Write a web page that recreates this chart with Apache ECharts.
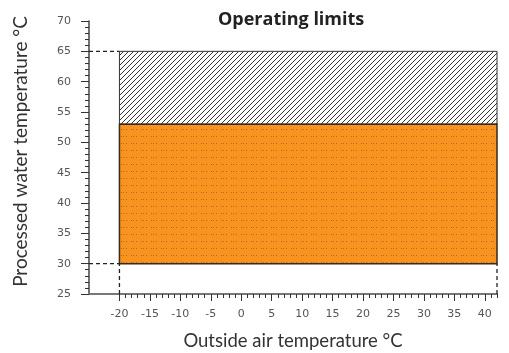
<!DOCTYPE html>
<html><head><meta charset="utf-8">
<script src="https://cdn.jsdelivr.net/npm/echarts@6/dist/echarts.min.js"></script>
<style>html,body{margin:0;padding:0;background:#fff}#c{width:509px;height:353px}</style>
</head><body><div id="c"></div>
<script>
// Data
const xLabels = [-20,-15,-10,-5,0,5,10,15,20,25,30,35,40,42];
const yRange = [25, 70];
const xRange = [-25, 42];
const operatingX = [-20, 42];
const operatingY = [30, 53];   // orange region
const hatchedY = [53, 65];     // hatched region
const minorX = [];
for (let v = -20; v <= 42; v++) minorX.push(v);

function hatchPattern(){
  const s = 5, c = document.createElement('canvas');
  c.width = s; c.height = s;
  const g = c.getContext('2d');
  g.fillStyle = '#fff'; g.fillRect(0,0,s,s);
  g.strokeStyle = '#333'; g.lineWidth = 1;
  g.beginPath();
  g.moveTo(0,s); g.lineTo(s,0);
  g.moveTo(-1,1); g.lineTo(1,-1);
  g.moveTo(s-1,s+1); g.lineTo(s+1,s-1);
  g.stroke();
  return c;
}
function dotPattern(){
  const w = 10, h = 7, c = document.createElement('canvas');
  c.width = w; c.height = h;
  const g = c.getContext('2d');
  g.fillStyle = '#F7931E'; g.fillRect(0,0,w,h);
  g.fillStyle = 'rgba(110,80,50,0.55)';
  [1,3,6].forEach(x => g.fillRect(x,3,1,1));
  return c;
}
const hatch = hatchPattern(), dots = dotPattern();

const rects = [
  {x0: operatingX[0], x1: operatingX[1], y0: hatchedY[0], y1: hatchedY[1], kind: 'hatch'},
  {x0: operatingX[0], x1: operatingX[1], y0: operatingY[0], y1: operatingY[1], kind: 'orange'}
];

const chart = echarts.init(document.getElementById('c'));
const dashStyle = {color:'#222', width:1.3, type:[4,3]};
chart.setOption({
  animation:false,
  title:{text:'Operating limits', left:213, top:6,
    textStyle:{fontFamily:'Open Sans', fontWeight:'bold', fontSize:18, color:'#222'}},
  grid:{left:89, right:12, top:21, bottom:59, containLabel:false, outerBoundsMode:'none'},
  xAxis:[{
    type:'value', min:xRange[0], max:xRange[1],
    name:'Outside air temperature °C', nameLocation:'middle', nameGap:38,
    nameTextStyle:{fontFamily:'Lato', fontSize:18.5, color:'#333'},
    axisLine:{show:true, onZero:false, lineStyle:{color:'#777', width:2}},
    axisTick:{show:true, customValues:xLabels, length:7, lineStyle:{color:'#333', width:1}},
    axisLabel:{customValues:xLabels, margin:15, fontFamily:'DejaVu Sans', fontSize:11, color:'#555'},
    splitLine:{show:false}
  },{
    type:'value', min:xRange[0], max:xRange[1], position:'bottom',
    axisLine:{show:false, onZero:false},
    axisTick:{show:true, customValues:minorX, length:4, lineStyle:{color:'#333', width:1}},
    axisLabel:{show:false}, splitLine:{show:false}
  }],
  yAxis:{
    type:'value', min:yRange[0], max:yRange[1], interval:5,
    name:'Processed water temperature °C', nameLocation:'middle', nameGap:59,
    nameTextStyle:{fontFamily:'Lato', fontSize:19, color:'#333', padding:[0,0,0,12]},
    axisLine:{show:true, onZero:false, lineStyle:{color:'#444', width:1.5}},
    axisTick:{show:true, length:8, lineStyle:{color:'#333', width:1}},
    minorTick:{show:true, splitNumber:5, length:4, lineStyle:{color:'#333', width:1}},
    axisLabel:{margin:18, fontFamily:'DejaVu Sans', fontSize:11, color:'#555'},
    splitLine:{show:false}
  },
  series:[
    {type:'custom', xAxisIndex:0, data: rects.map(r => [r.x0, r.x1, r.y0, r.y1]),
      renderItem:function(params, api){
        const p0 = api.coord([api.value(0), api.value(3)]);
        const p1 = api.coord([api.value(1), api.value(2)]);
        const r = rects[params.dataIndex];
        return {type:'rect', shape:{x:p0[0], y:p0[1], width:p1[0]-p0[0], height:p1[1]-p0[1]},
          style:{fill:{image: r.kind==='hatch'?hatch:dots, repeat:'repeat'},
                 stroke: r.kind==='hatch' ? '#333' : '#3a2a1a', lineWidth: r.kind==='hatch'?1:1.5}};
      }, z:2},
    {type:'line', xAxisIndex:0, symbol:'none', lineStyle:dashStyle, data:[[xRange[0],hatchedY[1]],[operatingX[0],hatchedY[1]]], z:3},
    {type:'line', xAxisIndex:0, symbol:'none', lineStyle:dashStyle, data:[[xRange[0],operatingY[0]],[operatingX[0],operatingY[0]]], z:3},
    {type:'line', xAxisIndex:0, symbol:'none', lineStyle:dashStyle, data:[[operatingX[0],yRange[0]],[operatingX[0],operatingY[0]]], z:3},
    {type:'line', xAxisIndex:0, symbol:'none', lineStyle:dashStyle, data:[[operatingX[1],yRange[0]],[operatingX[1],operatingY[0]]], z:3}
  ]
});
</script></body></html>
